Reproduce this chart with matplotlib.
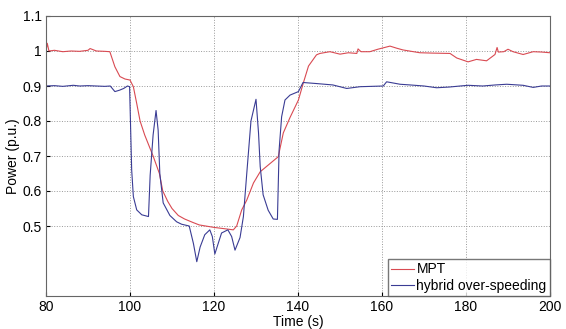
import numpy as np
import matplotlib.pyplot as plt

plt.rcParams['font.family'] = ['Liberation Sans', 'DejaVu Sans']

# MPT (red)
t_mpt = [80, 80.3, 80.7, 82, 84, 86, 88, 90, 90.5, 92, 94, 95.2, 96.4, 97.6, 98.8, 100,
         100.8, 101.6, 102.4, 103.5, 104.5, 105.5, 107, 107.8, 109, 110, 111.5, 113, 115,
         116.5, 118, 120, 122, 124.6, 125.4, 126.6, 127.8, 129.4, 131, 132.5, 134, 135.3,
         136.5, 138.1, 140.1, 141.3, 142.5, 144.4, 145.2, 147.6, 150, 152, 154, 154.3, 155,
         157.1, 159, 161.9, 163.5, 165, 169, 172, 176.2, 177.8, 180.5, 182.5, 184.9, 186.9,
         187.4, 187.7, 189, 190, 191.2, 193.6, 196, 198, 200]
p_mpt = [1.0, 1.022, 1.0, 1.002, 0.998, 1.0, 0.999, 1.002, 1.007, 1.0, 0.999, 0.998, 0.955,
         0.927, 0.92, 0.917, 0.898, 0.85, 0.8, 0.76, 0.73, 0.7, 0.65, 0.6, 0.57, 0.55, 0.53,
         0.52, 0.51, 0.503, 0.5, 0.496, 0.493, 0.489, 0.5, 0.546, 0.574, 0.623, 0.655, 0.67,
         0.685, 0.698, 0.766, 0.81, 0.86, 0.91, 0.957, 0.989, 0.993, 0.998, 0.991, 0.995,
         0.993, 1.006, 0.998, 0.998, 1.005, 1.014, 1.008, 1.003, 0.995, 0.994, 0.993, 0.98,
         0.969, 0.976, 0.972, 0.99, 1.01, 0.997, 0.998, 1.005, 0.998, 0.99, 0.998, 0.997,
         0.995]

# hybrid over-speeding (blue)
t_hyb = [80, 82, 84, 86.5, 88, 90, 92, 94, 95.3, 96.4, 97.5, 98.5, 99.4, 99.9, 100.4,
         100.8, 101.6, 102.8, 104.4, 104.8, 105.5, 106.2, 106.7, 107.1, 107.9, 109.5, 111.1,
         112.3, 114.1, 115.1, 115.9, 116.7, 117.8, 119, 119.6, 120.2, 121, 121.8, 123.3,
         124.2, 125, 126.2, 127, 127.8, 128.8, 130, 130.6, 131, 131.7, 132.9, 134.1, 135.1,
         135.5, 136.1, 136.9, 138.1, 140.1, 141.2, 144.4, 148.3, 151.6, 154.8, 160.3, 161.1,
         164.3, 166.7, 170, 173, 176, 178.6, 180.5, 184, 187, 189.7, 193.6, 196, 198, 200]
p_hyb = [0.9, 0.901, 0.899, 0.902, 0.9, 0.901, 0.9, 0.899, 0.9, 0.884, 0.888, 0.893, 0.9,
         0.898, 0.66, 0.584, 0.546, 0.532, 0.527, 0.645, 0.76, 0.83, 0.774, 0.65, 0.566,
         0.53, 0.512, 0.505, 0.5, 0.45, 0.398, 0.44, 0.475, 0.489, 0.47, 0.42, 0.45, 0.48,
         0.489, 0.47, 0.431, 0.467, 0.527, 0.65, 0.8, 0.862, 0.766, 0.67, 0.589, 0.545, 0.52,
         0.519, 0.717, 0.812, 0.86, 0.874, 0.884, 0.91, 0.907, 0.903, 0.893, 0.898, 0.9,
         0.912, 0.905, 0.903, 0.9, 0.895, 0.897, 0.9, 0.902, 0.9, 0.903, 0.905, 0.902,
         0.896, 0.9, 0.9]

fig = plt.figure(figsize=(5.66, 3.29), dpi=100)
ax = fig.add_axes([46/566, 1 - 296/329, 504/566, 280/329])
ax.plot(t_mpt, p_mpt, color='#d94a52', lw=0.8, label='MPT')
ax.plot(t_hyb, p_hyb, color='#3a3c94', lw=0.8, label='hybrid over-speeding')
ax.set_xlim(80, 200)
ax.set_ylim(0.3, 1.1)
ax.set_xticks([80, 100, 120, 140, 160, 180, 200])
ax.set_yticks([0.5, 0.6, 0.7, 0.8, 0.9, 1.0, 1.1])
ax.set_yticklabels(['0.5', '0.6', '0.7', '0.8', '0.9', '1', '1.1'])
ax.grid(True, linestyle=':', color='#999999', lw=0.7)
ax.tick_params(labelsize=10, direction='in', length=3, pad=3)
ax.set_xlabel('Time (s)', fontsize=10, labelpad=0.5)
ax.set_ylabel('Power (p.u.)', fontsize=10, labelpad=2)
for s in ax.spines.values():
    s.set_color('#666666')
ax.legend(loc='lower right', fontsize=10, handlelength=1.6, borderpad=0.25,
          labelspacing=0.15, fancybox=False, edgecolor='#555555', borderaxespad=0,
          handletextpad=0.2)
fig.savefig('out.png')
